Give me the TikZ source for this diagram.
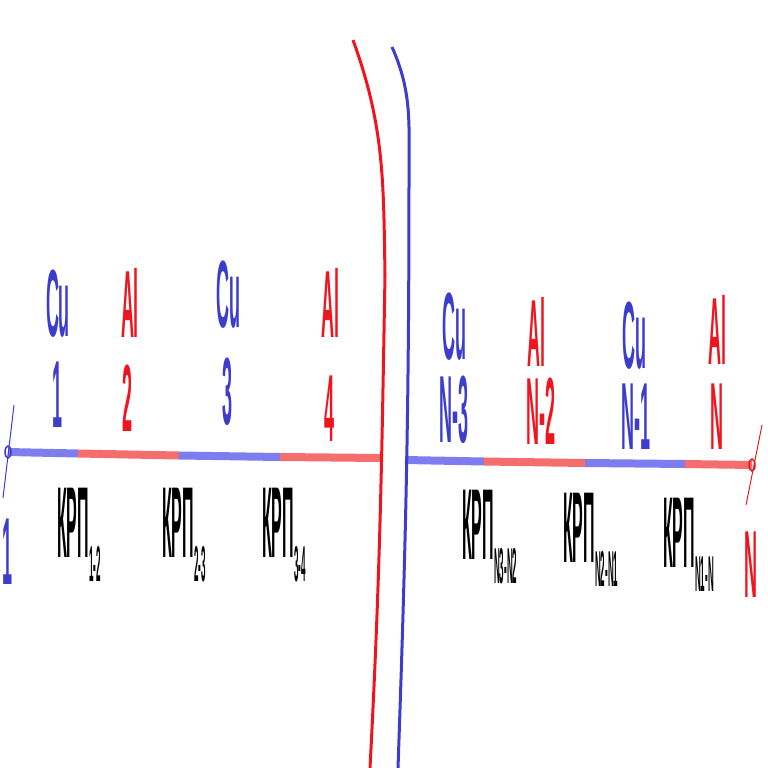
\documentclass[tikz,border=0pt]{standalone}
\usepackage{fontspec}
\setmainfont{Liberation Sans}
\definecolor{cublue}{RGB}{60,60,205}
\definecolor{alred}{RGB}{240,20,30}
\definecolor{cuseg}{RGB}{125,125,240}
\definecolor{alseg}{RGB}{245,110,110}
\newcommand{\krpsub}[1]{\raisebox{-0.45ex}{\fontsize{8}{8}\selectfont #1}}
\tikzset{
  metal/.style={font=\fontsize{18}{18}\selectfont\bfseries, yscale=5.3, inner sep=0pt,
    text height=13pt, text depth=0pt},
  krp/.style={font=\fontsize{16}{16}\selectfont\bfseries, yscale=6.3, inner sep=0pt, anchor=west},
  segcu/.style={draw=cuseg, line width=8pt},
  segal/.style={draw=alseg, line width=8pt},
  cutline/.style={line width=3pt}
}
\begin{document}
\begin{tikzpicture}[x=1pt,y=-1pt]
\useasboundingbox (0,0) rectangle (768,768);

% wire, left part
\coordinate (l0) at (8,452);
\coordinate (l1) at (78,453.5);
\coordinate (l2) at (179,455.5);
\coordinate (l3) at (280,457);
\coordinate (l4) at (382,458);
\draw[segcu] (l0) -- (l1);
\draw[segal] (l1) -- (l2);
\draw[segcu] (l2) -- (l3);
\draw[segal] (l3) -- (l4);

% wire, right part
\coordinate (r0) at (405,460);
\coordinate (r1) at (484,461.5);
\coordinate (r2) at (585,463);
\coordinate (r3) at (685,464);
\coordinate (r4) at (752,465);
\draw[segcu] (r0) -- (r1);
\draw[segal] (r1) -- (r2);
\draw[segcu] (r2) -- (r3);
\draw[segal] (r3) -- (r4);

% break of the line
\draw[cutline, alred] (353,40) to[out=-70,in=91] (385,275) to[out=-91,in=87] (370,768);
\draw[cutline, cublue] (392,47) to[out=-66,in=90] (409,170) to[out=-90,in=88] (398,768);

% ends
\draw[cublue, line width=1.5pt] (l0) ellipse (3pt and 6pt);
\draw[cublue, line width=1pt] (14,405) -- (3,498);
\draw[alred, line width=1.5pt] (r4) ellipse (3pt and 6pt);
\draw[alred, line width=1pt] (762,425) -- (746,505);

% metals
\node[metal, cublue] (m1) at (58,302) {Cu};
\node[metal, cublue] (n1) at (58,393) {1};
\node[metal, alred] (m2) at (130,303) {Al};
\node[metal, alred] (n2) at (128,397) {2};
\node[metal, cublue] (m3) at (228,293) {Cu};
\node[metal, cublue] (n3) at (228,390) {3};
\node[metal, alred] (m4) at (330,303) {Al};
\node[metal, alred] (n4) at (330,407) {4};
\node[metal, cublue] (m5) at (454,325) {Cu};
\node[metal, cublue] (n5) at (454,408) {N-3};
\node[metal, alred] (m6) at (536,332) {Al};
\node[metal, alred] (n6) at (541,410) {N-2};
\node[metal, cublue] (m7) at (634,334) {Cu};
\node[metal, cublue] (n7) at (636,415) {N-1};
\node[metal, alred] (m8) at (717,330) {Al};
\node[metal, alred] (n8) at (717,415) {N};

% end numbers
\node[metal, cublue] (e1) at (8,550) {1};
\node[metal, alred] (eN) at (751,563) {N};

% contact transitions
\node[krp] (k12) at (57,535) {КРП\krpsub{1-2}};
\node[krp] (k23) at (162,535) {КРП\krpsub{2-3}};
\node[krp] (k34) at (262,535) {КРП\krpsub{3-4}};
\node[krp] (k5) at (462,537) {КРП\krpsub{N3-N2}};
\node[krp] (k6) at (563,540) {КРП\krpsub{N2-N1}};
\node[krp] (k7) at (663,545) {КРП\krpsub{N1-N}};
\end{tikzpicture}
\end{document}
